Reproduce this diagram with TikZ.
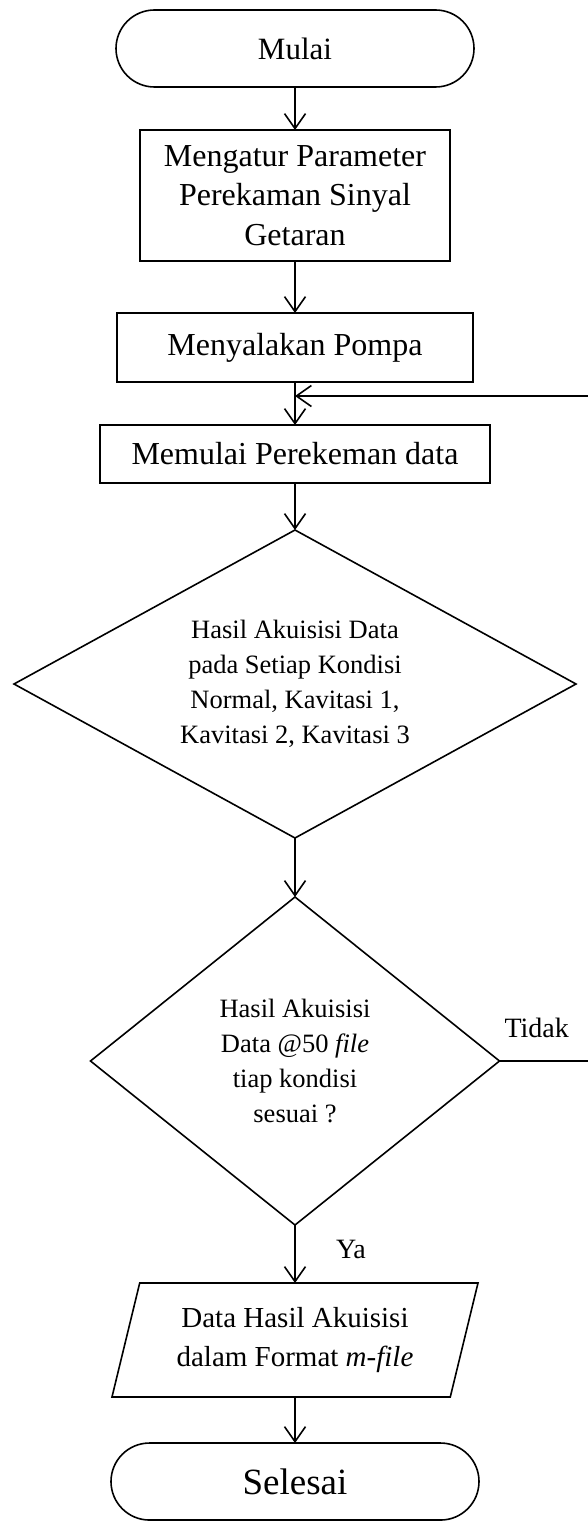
\documentclass[tikz,border=0pt]{standalone}
\usepackage{fontspec}
\setmainfont{Liberation Serif}
\usetikzlibrary{shapes,arrows.meta,positioning}

\begin{document}
\begin{tikzpicture}[x=1pt,y=1pt,line width=1.6pt,every node/.style={align=center,inner sep=0pt,outer sep=0pt},terminal/.style={draw,shape=rounded rectangle,minimum height=77pt},process/.style={draw,shape=rectangle,font=\fontsize{32}{39.5}\selectfont},decision/.style={draw,shape=diamond,aspect=2,font=\fontsize{26.5}{35}\selectfont},io/.style={draw,shape=trapezium,trapezium left angle=67,trapezium right angle=113,trapezium stretches body=true,font=\fontsize{29}{39}\selectfont},lbl/.style={font=\fontsize{28}{32}\selectfont},arrow/.style={-{Straight Barb[length=15pt,width=21pt]}}]
\useasboundingbox (0,0) rectangle (587,-1522);
\node[terminal,minimum width=358pt,font=\fontsize{31}{36}\selectfont] (start) at (295,-48.5) {Mulai};
\node[process,minimum width=310pt,minimum height=131pt,below=43pt of start] (setparam) {Mengatur Parameter\\Perekaman Sinyal\\Getaran};
\node[process,minimum width=356pt,minimum height=69pt,below=52pt of setparam] (pump) {Menyalakan Pompa};
\node[process,minimum width=390pt,minimum height=58pt,below=43pt of pump] (record) {Memulai Perekeman data};
\node[decision,minimum width=562pt,minimum height=308pt,below=47pt of record] (result) {Hasil Akuisisi Data\\pada Setiap Kondisi\\Normal, Kavitasi 1,\\Kavitasi 2, Kavitasi 3};
\node[decision,minimum width=409pt,minimum height=328pt,below=59pt of result] (check) {Hasil Akuisisi\\Data @50 \textit{file}\\tiap kondisi\\sesuai ?};
\node[io,minimum width=366pt,minimum height=114pt,below=58pt of check] (output) {Data Hasil Akuisisi\\dalam Format \textit{m-file}};
\node[terminal,minimum width=368pt,font=\fontsize{37}{42}\selectfont,below=46pt of output] (stop) {Selesai};
\node[lbl,above right=23pt and 5pt of check.east] (no) {Tidak};
\node[lbl,below right=15pt and 41pt of check.south] (yes) {Ya};
\coordinate (loop) at ([yshift=-14pt]pump.south);
\draw[arrow] (start) -- (setparam);
\draw[arrow] (setparam) -- (pump);
\draw[arrow] (pump) -- (record);
\draw[arrow] (record) -- (result);
\draw[arrow] (result) -- (check);
\draw[arrow] (check) -- (output);
\draw[arrow] (output) -- (stop);
\draw[arrow] (check.east) -- ++(92,0) |- (loop);
\end{tikzpicture}
\end{document}
